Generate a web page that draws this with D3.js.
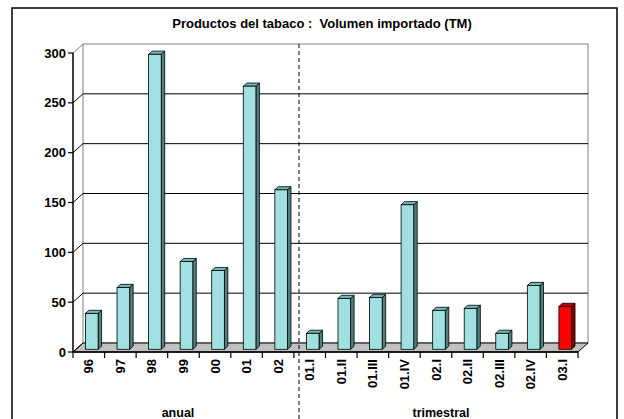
<!DOCTYPE html>
<html>
<head>
<meta charset="utf-8">
<script src="https://cdn.jsdelivr.net/npm/d3@7"></script>
<style>
  body { margin: 0; background: #fff; }
  text { font-family: "Liberation Sans", Arial, sans-serif; font-weight: bold; fill: #000; }
</style>
</head>
<body>
<svg id="chart" width="624" height="419"></svg>
<script>
// data
var categories = ["96", "97", "98", "99", "00", "01", "02",
                  "01.I", "01.II", "01.III", "01.IV", "02.I", "02.II", "02.III", "02.IV", "03.I"];
var values = [36, 62, 296, 88, 79, 264, 160, 16, 51, 52, 145, 39, 41, 16, 64, 43];
var highlight = ["03.I"];
var yTicks = [0, 50, 100, 150, 200, 250, 300];
var groupLabels = ["anual", "trimestral"];

var svg = d3.select("#chart");

// 3d depth offset of the plot box
var depthX = 10, depthY = -9;
var x = d3.scaleBand().domain(categories).range([73, 578]).paddingInner(0);
var y = d3.scaleLinear().domain([0, 300]).range([352, 53]);

// outer frame
svg.append("rect")
    .attr("x", 12).attr("y", 8)
    .attr("width", 605).attr("height", 420)
    .attr("fill", "none").attr("stroke", "#000").attr("stroke-width", 1.5);

// title
svg.append("text")
    .attr("x", 322).attr("y", 28)
    .attr("text-anchor", "middle")
    .style("font-size", "13px")
    .style("white-space", "pre")
    .text("Productos del tabaco :  Volumen importado (TM)");

// back wall
var x0 = x.range()[0], x1 = x.range()[1];
svg.append("rect")
    .attr("x", x0 + depthX).attr("y", y(300) + depthY)
    .attr("width", x1 - x0).attr("height", y(0) - y(300))
    .attr("fill", "#fff").attr("stroke", "#808080").attr("stroke-width", 1);

// floor
svg.append("path")
    .attr("d", "M" + x0 + "," + y(0) + "L" + x1 + "," + y(0) + "L" + (x1 + depthX) + "," + (y(0) + depthY)
        + "L" + (x0 + depthX) + "," + (y(0) + depthY) + "Z")
    .attr("fill", "#c0c0c0").attr("stroke", "#000").attr("stroke-width", 1);

// gridlines on back wall + side wall
yTicks.forEach(function(t) {
    if (t > 0 && t < 300) {
        svg.append("line")
            .attr("x1", x0 + depthX).attr("x2", x1 + depthX)
            .attr("y1", y(t) + depthY).attr("y2", y(t) + depthY)
            .attr("stroke", "#000").attr("stroke-width", 1);
    }
    svg.append("line")
        .attr("x1", x0).attr("x2", x0 + depthX)
        .attr("y1", y(t)).attr("y2", y(t) + depthY)
        .attr("stroke", t == 300 ? "#808080" : "#000").attr("stroke-width", 1);
});

// bars (front face, side, top)
var dFront = 0.3, dBack = 0.65;
var bw = x.bandwidth() * 0.4;
var bars = svg.append("g").selectAll("g")
    .data(categories.map(function(c, i) { return {cat: c, val: values[i]}; }))
    .enter().append("g");

bars.each(function(d) {
    var g = d3.select(this);
    var hi = highlight.indexOf(d.cat) >= 0;
    var fx = x(d.cat) + (x.bandwidth() - bw) / 2 + depthX * dFront;
    var fy0 = y(0) + depthY * dFront;
    var fy1 = y(d.val) + depthY * dFront;
    var ox = depthX * (dBack - dFront), oy = depthY * (dBack - dFront);
    g.append("path")
        .attr("d", "M" + (fx + bw) + "," + fy0 + "L" + (fx + bw + ox) + "," + (fy0 + oy)
            + "L" + (fx + bw + ox) + "," + (fy1 + oy) + "L" + (fx + bw) + "," + fy1 + "Z")
        .attr("fill", hi ? "#800000" : "#4f8080").attr("stroke", "#000").attr("stroke-width", 0.8);
    g.append("path")
        .attr("d", "M" + fx + "," + fy1 + "L" + (fx + ox) + "," + (fy1 + oy)
            + "L" + (fx + bw + ox) + "," + (fy1 + oy) + "L" + (fx + bw) + "," + fy1 + "Z")
        .attr("fill", hi ? "#c00000" : "#70b8b8").attr("stroke", "#000").attr("stroke-width", 0.8);
    g.append("rect")
        .attr("x", fx).attr("y", fy1)
        .attr("width", bw).attr("height", fy0 - fy1)
        .attr("fill", hi ? "#ff0000" : "#a0e0e0").attr("stroke", "#000").attr("stroke-width", 0.8);
});

// y axis
svg.append("line")
    .attr("x1", x0).attr("x2", x0).attr("y1", y(0)).attr("y2", y(300))
    .attr("stroke", "#000").attr("stroke-width", 1.5);
svg.append("g").selectAll("line").data(yTicks).enter().append("line")
    .attr("x1", x0 - 5).attr("x2", x0)
    .attr("y1", function(d) { return y(d); }).attr("y2", function(d) { return y(d); })
    .attr("stroke", "#000").attr("stroke-width", 1.2);
svg.append("g").selectAll("text").data(yTicks).enter().append("text")
    .attr("x", x0 - 7).attr("y", function(d) { return y(d); })
    .attr("dy", "0.35em")
    .attr("text-anchor", "end")
    .style("font-size", "13px")
    .text(function(d) { return d; });

// x axis
svg.append("line")
    .attr("x1", x0).attr("x2", x1).attr("y1", y(0)).attr("y2", y(0))
    .attr("stroke", "#000").attr("stroke-width", 1.5);
var bounds = categories.map(function(c) { return x(c); }).concat([x1]);
svg.append("g").selectAll("line").data(bounds).enter().append("line")
    .attr("x1", function(d) { return d; }).attr("x2", function(d) { return d; })
    .attr("y1", y(0)).attr("y2", y(0) + 6)
    .attr("stroke", "#000").attr("stroke-width", 1.2);
svg.append("g").selectAll("text").data(categories).enter().append("text")
    .attr("transform", function(d) { return "translate(" + (x(d) + x.bandwidth() / 2) + "," + (y(0) + 7) + ") rotate(-90)"; })
    .attr("dy", "0.35em")
    .attr("text-anchor", "end")
    .style("font-size", "13px")
    .text(function(d) { return d; });

// divider between anual and trimestral
svg.append("line")
    .attr("x1", 299).attr("x2", 299).attr("y1", y(300) + depthY).attr("y2", 419)
    .attr("stroke", "#000").attr("stroke-width", 1).attr("stroke-dasharray", "4,3");

// group labels
svg.append("text")
    .attr("x", 178).attr("y", 417)
    .attr("text-anchor", "middle").style("font-size", "12.5px")
    .text(groupLabels[0]);
svg.append("text")
    .attr("x", 441).attr("y", 417)
    .attr("text-anchor", "middle").style("font-size", "12.5px")
    .text(groupLabels[1]);
</script>
</body>
</html>
